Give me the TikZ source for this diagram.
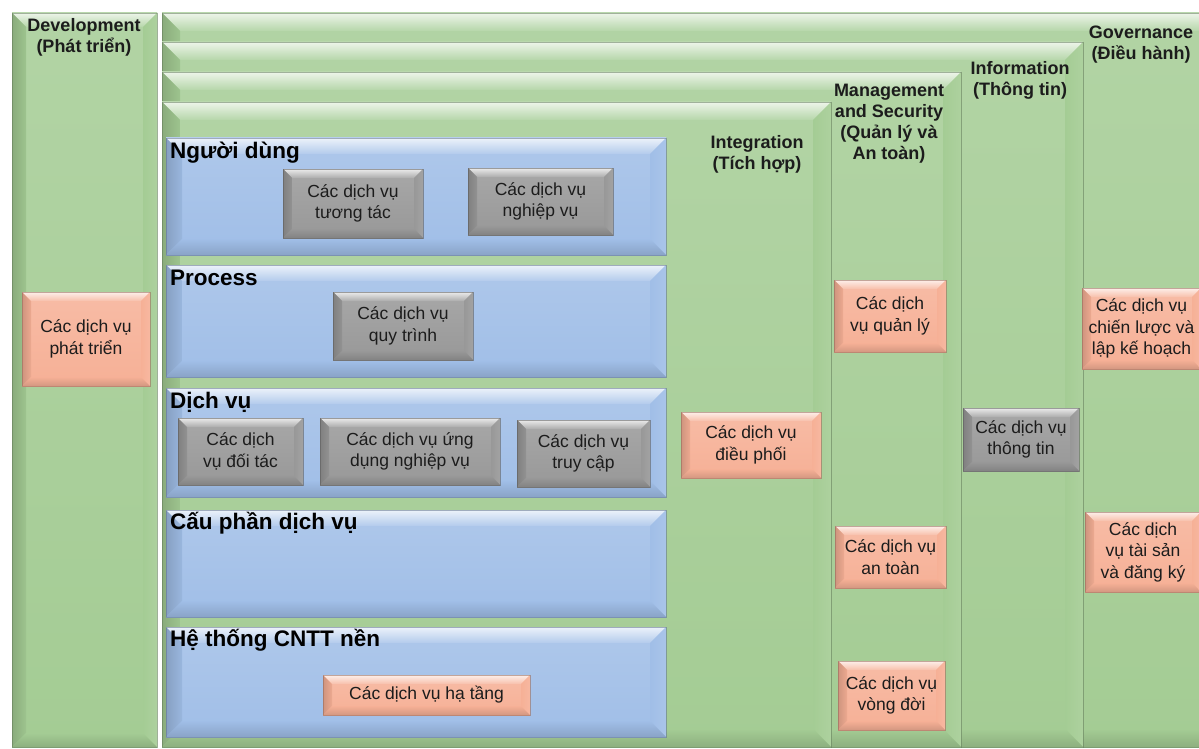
\documentclass[tikz,border=0pt]{standalone}
\usepackage{fontspec}
\setmainfont{Liberation Sans}
\usetikzlibrary{calc}

\definecolor{bandgreen}{RGB}{164,204,148}
\definecolor{layerblue}{RGB}{160,190,231}
\definecolor{svcgray}{RGB}{152,152,152}
\definecolor{svcorange}{RGB}{246,176,150}
\definecolor{inktext}{RGB}{28,28,28}

% bevelled faces drawn inside a rectangle: #1 colour, #2 bevel depth
\newcommand\bevelfaces[2]{%
  \path (path picture bounding box.north west) coordinate (bA)
        (path picture bounding box.north east) coordinate (bB)
        (path picture bounding box.south east) coordinate (bC)
        (path picture bounding box.south west) coordinate (bD);
  \path ($(bA)+(#2,-#2)$) coordinate (iA)
        ($(bB)+(-#2,-#2)$) coordinate (iB)
        ($(bC)+(-#2,#2)$) coordinate (iC)
        ($(bD)+(#2,#2)$) coordinate (iD);
  \shade[top color=white!80!#1, bottom color=#1!80!white] (bA)--(bB)--(iB)--(iA)--cycle;
  \shade[left color=#1!84!black, right color=#1!96!black] (bA)--(iA)--(iD)--(bD)--cycle;
  \shade[left color=#1, right color=#1!90!white] (bB)--(bC)--(iC)--(iB)--cycle;
  \shade[top color=#1, bottom color=#1!86!black] (bD)--(iD)--(iC)--(bC)--cycle;
}

\tikzset{
  bevel depth/.store in=\bevdepth,
  bevel depth=9pt,
  panel/.style={rectangle, inner sep=0pt, outer sep=0pt,
    top color=#1!85!white, bottom color=#1, draw=#1!60!black, draw opacity=0.55,
    line width=0.5pt, path picture={\bevelfaces{#1}{\bevdepth}}},
  tile/.style={panel=#1, align=center, text=inktext,
    font=\fontsize{17.5}{21.5}\selectfont},
  bandlabel/.style={align=center, text=inktext, inner sep=0pt,
    font=\fontsize{18}{21}\selectfont\bfseries},
  layerlabel/.style={anchor=west, inner sep=0pt, text=black,
    font=\fontsize{22.5}{26}\selectfont\bfseries},
}

% box from its corners (x1,y1) to (x2,y2) in pixel-like units
\newcommand\tilebox[7]{%
  \node[#6, minimum width={#4pt-#2pt}, minimum height={#5pt-#3pt}]
    (#1) at ({(#2+#4)/2},{(#3+#5)/2}) {#7};}

\begin{document}
\begin{tikzpicture}[x=1pt,y=-1pt]
\useasboundingbox (0,0) rectangle (1199,749);
\clip (0,0) rectangle (1199,749);
\fill[white] (0,0) rectangle (1199,749);

% development column
\tilebox{devcol}{12}{13}{157}{747}{panel=bandgreen, bevel depth=14pt}{}
% nested cross-cutting bands
\tilebox{govband}{162}{13}{1230}{747}{panel=bandgreen, bevel depth=18pt}{}
\tilebox{infoband}{162}{42}{1083}{747}{panel=bandgreen, bevel depth=18pt}{}
\tilebox{mgmtband}{162}{72}{961}{747}{panel=bandgreen, bevel depth=18pt}{}
\tilebox{integband}{162}{102}{831}{747}{panel=bandgreen, bevel depth=18pt}{}

% band titles
\node[bandlabel] (lblDev) at (84,37) {Development\\(Phát triển)};
\node[bandlabel] (lblGov) at (1141,45) {Governance\\(Điều hành)};
\node[bandlabel] (lblInfo) at (1020,80) {Information\\(Thông tin)};
\node[bandlabel] (lblMgmt) at (889,124) {Management\\and Security\\(Quản lý và\\An toàn)};
\node[bandlabel] (lblInteg) at (757,154) {Integration\\(Tích hợp)};

% layers
\tilebox{users}{166}{138}{666}{255}{panel=layerblue, bevel depth=16pt}{}
\tilebox{process}{166}{265}{666}{377}{panel=layerblue, bevel depth=16pt}{}
\tilebox{services}{166}{388}{666}{497}{panel=layerblue, bevel depth=16pt}{}
\tilebox{components}{166}{510}{666}{617}{panel=layerblue, bevel depth=16pt}{}
\tilebox{infra}{166}{627}{666}{737}{panel=layerblue, bevel depth=16pt}{}

\node[layerlabel] (lblUsers) at (170,153) {Người dùng};
\node[layerlabel] (lblProcess) at (170,278) {Process};
\node[layerlabel] (lblServices) at (170,402) {Dịch vụ};
\node[layerlabel] (lblComponents) at (170,523) {Cấu phần dịch vụ};
\node[layerlabel] (lblInfra) at (170,640) {Hệ thống CNTT nền};

% service boxes
\tilebox{devsvc}{22}{292}{150}{386}{tile=svcorange}{Các dịch vụ\\phát triển}
\tilebox{interact}{283}{169}{423}{238}{tile=svcgray}{Các dịch vụ\\tương tác}
\tilebox{business}{468}{168}{613}{235}{tile=svcgray}{Các dịch vụ\\nghiệp vụ}
\tilebox{procsvc}{333}{292}{473}{360}{tile=svcgray}{Các dịch vụ\\quy trình}
\tilebox{partner}{178}{418}{303}{485}{tile=svcgray}{Các dịch\\vụ đối tác}
\tilebox{appsvc}{320}{418}{500}{485}{tile=svcgray}{Các dịch vụ ứng\\dụng nghiệp vụ}
\tilebox{access}{517}{420}{650}{487}{tile=svcgray}{Các dịch vụ\\truy cập}
\tilebox{infrasvc}{323}{675}{530}{715}{tile=svcorange}{Các dịch vụ hạ tầng}
\tilebox{mediation}{681}{412}{821}{478}{tile=svcorange}{Các dịch vụ\\điều phối}
\tilebox{mgmtsvc}{834}{280}{946}{352}{tile=svcorange}{Các dịch\\vụ quản lý}
\tilebox{secsvc}{835}{526}{946}{588}{tile=svcorange}{Các dịch vụ\\an toàn}
\tilebox{lifesvc}{838}{661}{945}{730}{tile=svcorange}{Các dịch vụ\\vòng đời}
\tilebox{infosvc}{963}{408}{1079}{471}{tile=svcgray}{Các dịch vụ\\thông tin}
\tilebox{stratsvc}{1082}{288}{1201}{369}{tile=svcorange}{Các dịch vụ\\chiến lược và\\lập kế hoạch}
\tilebox{assetsvc}{1085}{512}{1201}{592}{tile=svcorange}{Các dịch\\vụ tài sản\\và đăng ký}
\end{tikzpicture}
\end{document}
